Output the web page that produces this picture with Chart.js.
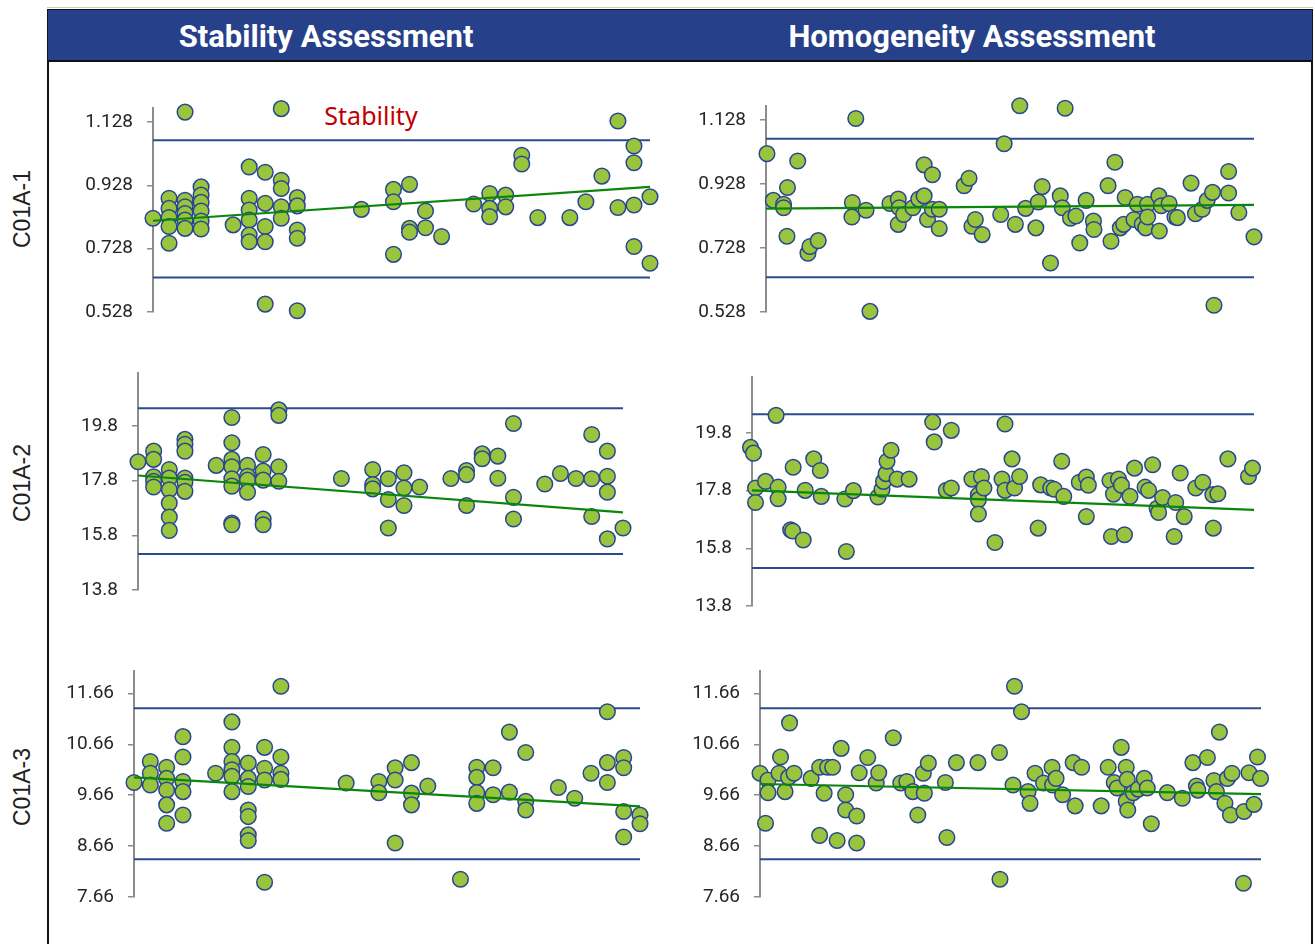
<!DOCTYPE html>
<html>
<head>
<meta charset="utf-8">
<script src="https://cdn.jsdelivr.net/npm/chart.js@4.4.1/dist/chart.umd.min.js"></script>
<style>
  body { margin: 0; width: 1315px; height: 944px; position: relative; overflow: hidden; background: #fff; }
  #topline { position: absolute; left: 47px; top: 7px; width: 1266px; height: 1px; background: #c8c8c8; }
  #frame { position: absolute; left: 47px; top: 9px; width: 1266px; height: 980px; border: 2px solid #111; box-sizing: border-box; }
  #header { position: absolute; left: 48px; top: 10px; width: 1264px; height: 52px; background: #26418A; border-bottom: 2px solid #111; box-sizing: border-box; }
  .htitle { position: absolute; top: 8px; height: 36px; line-height: 36px; color: #fff; font: bold 31px Roboto, sans-serif; transform: translateX(-50%); white-space: nowrap; }
  .rowlab { position: absolute; font: 23px 'Liberation Sans', Arial, sans-serif; color: #222; transform: translate(-50%, -50%) rotate(-90deg); white-space: nowrap; }
  #stabLabel { position: absolute; left: 371px; top: 115px; transform: translate(-50%, -50%); color: #C00000; font: 25px 'Noto Sans', sans-serif; white-space: nowrap; }
  canvas { position: absolute; }
</style>
</head>
<body>
<div id="topline"></div>
<div id="frame"></div>
<div id="header">
  <div class="htitle" style="left:278px">Stability Assessment</div>
  <div class="htitle" style="left:924px">Homogeneity Assessment</div>
</div>
<div class="rowlab" style="left:22px;top:209px">C01A-1</div>
<div class="rowlab" style="left:22px;top:483px">C01A-2</div>
<div class="rowlab" style="left:22px;top:787px">C01A-3</div>
<div id="stabLabel">Stability</div>

<script>
// ---- data ----

// stability: time points (columns) shared by all three samples
const stabTimes = [0, 1, 2, 3, 5, 6, 7, 8, 9, 13, 15, 16, 17, 18, 20, 21, 22, 23, 24, 26, 27, 28, 29, 30, 31];

const stab1Values = [
  [0.824], [0.887, 0.855, 0.826, 0.798, 0.745], [1.159, 0.881, 0.860, 0.839, 0.818, 0.792],
  [0.923, 0.897, 0.874, 0.847, 0.815, 0.790], [0.803], [0.986, 0.887, 0.850, 0.818, 0.771, 0.750],
  [0.969, 0.871, 0.798, 0.750, 0.553], [1.170, 0.944, 0.918, 0.860, 0.824], [0.889, 0.863, 0.787, 0.761, 0.532],
  [0.852], [0.915, 0.876, 0.710], [0.931, 0.792, 0.780], [0.847, 0.794], [0.766],
  [0.869], [0.902, 0.855, 0.829], [0.897, 0.860], [1.023, 0.995], [0.826],
  [0.826], [0.876], [0.957], [1.131, 0.858], [1.052, 0.999, 0.866, 0.735], [0.892, 0.682]
];
const stab2Values = [
  [18.49], [18.88, 18.58, 17.94, 17.78, 17.57], [18.21, 17.90, 17.47, 16.98, 16.47, 15.98],
  [19.31, 19.13, 18.88, 17.90, 17.74, 17.41], [18.36], [20.11, 19.19, 18.58, 18.31, 17.87, 17.60, 16.25, 16.19],
  [18.36, 17.96, 17.82, 17.38], [18.76, 18.15, 17.82, 16.40, 16.19], [20.39, 20.19, 18.31, 17.78],
  [17.88], [18.21, 17.66, 17.50], [17.87, 17.11, 16.07], [18.09, 17.53, 16.89], [17.57],
  [17.88], [18.17, 18.02, 16.89], [18.78, 18.60], [18.70, 17.89], [19.89, 17.19, 16.40],
  [17.68], [18.06], [17.88], [19.49, 17.87, 16.49], [18.88, 17.96, 17.38, 15.67], [16.07]
];
const stab3Values = [
  [9.91], [10.32, 10.09, 9.86], [10.21, 9.99, 9.76, 9.47, 9.11],
  [10.81, 10.41, 9.93, 9.73, 9.27], [10.09], [11.10, 10.60, 10.32, 10.16, 10.03, 9.73],
  [10.29, 9.99, 9.83, 9.37, 9.24, 8.88, 8.77], [10.60, 10.19, 9.96, 7.95], [11.80, 10.41, 10.09, 9.97],
  [9.90], [9.93, 9.71], [10.20, 9.96, 8.72], [10.30, 9.70, 9.47], [9.84],
  [8.01], [10.21, 10.01, 9.71, 9.50], [10.20, 9.67], [10.90, 9.72], [10.50, 9.54, 9.37],
  [9.81], [9.60], [10.09], [11.30, 10.30, 9.91], [10.40, 10.20, 9.34, 8.84], [9.27, 9.10]
];

// homogeneity: [position along the run (0-100), value]
const homog1Points = [
  [0.2, 1.023], [1.5, 0.877], [3.6, 0.865], [3.6, 0.854], [4.4, 0.917], [4.3, 0.765], [6.5, 1.000], [8.6, 0.712],
  [9.0, 0.733], [10.7, 0.751], [18.4, 1.133], [17.7, 0.870], [17.6, 0.825], [20.5, 0.846], [21.3, 0.530], [25.4, 0.867],
  [27.1, 0.881], [27.3, 0.854], [27.1, 0.802], [28.2, 0.833], [30.1, 0.854], [31.3, 0.881], [32.4, 0.891], [32.4, 0.988],
  [34.1, 0.957], [33.1, 0.817], [34.1, 0.849], [35.5, 0.849], [35.5, 0.789], [40.6, 0.923], [41.6, 0.946], [42.2, 0.796],
  [42.9, 0.817], [44.3, 0.770], [48.1, 0.833], [48.8, 1.054], [51.1, 0.802], [52.0, 1.173], [53.2, 0.852], [55.3, 0.791],
  [55.8, 0.872], [56.6, 0.920], [58.3, 0.681], [60.3, 0.891], [60.7, 0.854], [62.4, 0.821], [63.5, 0.828], [64.3, 0.744],
  [65.6, 0.877], [67.1, 0.812], [67.2, 0.786], [61.3, 1.165], [70.1, 0.923], [70.7, 0.749], [71.5, 0.996], [72.6, 0.791],
  [73.3, 0.802], [73.6, 0.886], [75.4, 0.817], [76.1, 0.865], [77.1, 0.802], [77.8, 0.791], [78.2, 0.865], [78.2, 0.825],
  [80.5, 0.891], [80.6, 0.781], [81.0, 0.860], [82.6, 0.867], [83.8, 0.825], [84.3, 0.823], [87.1, 0.931], [88.0, 0.835],
  [89.4, 0.849], [90.4, 0.877], [91.5, 0.902], [91.8, 0.549], [94.8, 0.967], [94.8, 0.900], [96.9, 0.839], [100, 0.763]
];
const homog2Points = [
  [-0.3, 19.30], [0.3, 19.10], [0.7, 17.89], [0.7, 17.39], [2.7, 18.12], [5.2, 17.92], [5.2, 17.52], [4.8, 20.41],
  [7.7, 16.44], [8.1, 16.40], [10.2, 16.09], [8.2, 18.61], [12.3, 18.90], [13.6, 18.50], [10.6, 17.81], [13.8, 17.60],
  [18.5, 17.51], [18.8, 15.69], [20.2, 17.80], [25.1, 17.58], [25.9, 17.85], [26.2, 18.12], [26.7, 18.39], [26.9, 18.82],
  [27.7, 19.20], [28.9, 18.20], [31.3, 18.20], [36.0, 20.18], [36.3, 19.49], [39.7, 19.89], [38.7, 17.81], [39.7, 17.89],
  [43.8, 18.20], [45.7, 18.29], [45.1, 17.66], [45.1, 17.48], [45.1, 16.99], [46.2, 17.89], [48.4, 16.00], [49.8, 18.20],
  [50.4, 17.81], [50.4, 20.11], [51.8, 18.90], [52.3, 17.89], [53.3, 18.29], [57.0, 16.50], [57.5, 18.00], [59.5, 17.89],
  [60.2, 17.85], [61.7, 18.82], [62.1, 17.60], [65.2, 18.09], [66.6, 18.27], [67.0, 17.99], [66.6, 16.90], [71.3, 18.15],
  [72.0, 17.68], [73.0, 18.20], [73.6, 17.99], [71.6, 16.21], [74.2, 16.27], [75.3, 17.60], [76.2, 18.58], [78.3, 17.92],
  [79.0, 17.81], [79.8, 18.70], [80.7, 17.19], [81.0, 17.04], [81.8, 17.56], [84.1, 16.21], [84.4, 17.39], [85.3, 18.41],
  [86.1, 16.90], [88.4, 17.89], [89.8, 18.09], [91.9, 16.50], [91.8, 17.66], [92.8, 17.69], [94.8, 18.90], [98.9, 18.29],
  [99.7, 18.58]
];
const homog3Points = [
  [0, 10.09], [1.6, 9.96], [1.6, 9.71], [1.1, 9.11], [4.1, 10.41], [3.8, 10.09], [5.0, 9.73], [5.7, 10.01],
  [5.9, 11.08], [6.8, 10.09], [10.2, 9.99], [11.9, 10.21], [13.5, 10.21], [14.5, 10.21], [12.8, 9.70], [11.9, 8.87],
  [15.4, 8.77], [16.2, 10.58], [17.1, 9.67], [17.1, 9.37], [19.3, 9.25], [19.3, 8.72], [19.8, 10.10], [21.5, 10.40],
  [23.2, 9.90], [23.7, 10.10], [26.6, 10.79], [28.1, 9.90], [29.3, 9.93], [30.5, 9.73], [31.5, 9.27], [32.6, 10.09],
  [33.6, 10.29], [32.8, 9.70], [37.0, 9.91], [37.3, 8.83], [39.2, 10.30], [43.5, 10.30], [47.8, 10.50], [47.9, 8.01],
  [50.5, 9.86], [50.8, 11.80], [52.2, 11.30], [53.5, 9.73], [53.9, 9.50], [54.9, 10.09], [56.6, 9.90], [58.3, 10.21],
  [58.4, 9.86], [59.1, 9.99], [60.4, 9.67], [62.5, 10.30], [62.9, 9.45], [64.2, 10.21], [68.1, 9.45], [69.5, 10.21],
  [70.7, 9.91], [71.3, 9.80], [72.1, 10.60], [73.1, 10.21], [73.3, 9.97], [73.1, 9.54], [73.4, 9.37], [74.5, 9.71],
  [75.5, 9.78], [76.7, 9.99], [77.3, 9.80], [78.1, 9.10], [81.3, 9.71], [84.3, 9.60], [86.4, 10.30], [87.1, 9.84],
  [87.4, 9.76], [89.3, 10.40], [90.6, 9.95], [91.7, 10.90], [91.1, 9.73], [92.8, 9.50], [93.3, 9.99], [93.9, 9.27],
  [94.2, 10.09], [96.5, 7.93], [96.6, 9.34], [97.6, 10.10], [98.6, 9.48], [99.3, 10.41], [99.9, 9.99]
];

// y-axis tick labels per sample row
const ticksRow1 = [0.528, 0.728, 0.928, 1.128];
const ticksRow2 = [13.8, 15.8, 17.8, 19.8];
const ticksRow3 = [7.66, 8.66, 9.66, 10.66, 11.66];

// control limits [lower, upper] per row
const limitsRow1 = [0.637, 1.070];
const limitsRow2 = [15.12, 20.45];
const limitsRow3 = [8.40, 11.37];

// trend line ends [start, end] per panel
const trendStab1 = [0.816, 0.923];
const trendStab2 = [17.99, 16.64];
const trendStab3 = [10.01, 9.44];
const trendHomog1 = [0.851, 0.863];
const trendHomog2 = [17.81, 17.13];
const trendHomog3 = [9.88, 9.68];

// ---- drawing ----
const POINT_FILL = '#98C43E';
const POINT_EDGE = '#2B4690';
const LIMIT_COLOR = '#2E4A8E';
const TREND_COLOR = '#0A870A';

function stabPoints(values) {
    const pts = [];
    values.forEach((col, i) => col.forEach(v => pts.push({ x: stabTimes[i], y: v })));
    return pts;
}
function pairPoints(arr) {
    return arr.map(p => ({ x: p[0], y: p[1] }));
}

// chart area boxes (left, right, top, bottom) in page pixels
const panels = [
    { box: [153, 650, 108, 312], pts: stabPoints(stab1Values), xMax: 31, ticks: ticksRow1, dec: 3, yMin: 0.528, yMax: 1.172, lim: limitsRow1, trend: trendStab1 },
    { box: [766, 1254, 106, 312], pts: pairPoints(homog1Points), xMax: 100, ticks: ticksRow1, dec: 3, yMin: 0.528, yMax: 1.172, lim: limitsRow1, trend: trendHomog1 },
    { box: [138, 623, 373, 590], pts: stabPoints(stab2Values), xMax: 31, ticks: ticksRow2, dec: 1, yMin: 13.8, yMax: 21.74, lim: limitsRow2, trend: trendStab2 },
    { box: [752, 1254, 377, 606], pts: pairPoints(homog2Points), xMax: 100, ticks: ticksRow2, dec: 1, yMin: 13.8, yMax: 21.74, lim: limitsRow2, trend: trendHomog2 },
    { box: [134, 640, 671, 897], pts: stabPoints(stab3Values), xMax: 31, ticks: ticksRow3, dec: 2, yMin: 7.66, yMax: 12.10, lim: limitsRow3, trend: trendStab3 },
    { box: [760, 1261, 671, 897], pts: pairPoints(homog3Points), xMax: 100, ticks: ticksRow3, dec: 2, yMin: 7.66, yMax: 12.10, lim: limitsRow3, trend: trendHomog3 }
];

const AXIS_W = 100, PAD_R = 24, PAD_T = 26, PAD_B = 26;

panels.forEach(p => {
    const [l, r, t, b] = p.box;
    const canvas = document.createElement('canvas');
    canvas.width = (r - l) + AXIS_W + PAD_R;
    canvas.height = (b - t) + PAD_T + PAD_B;
    canvas.style.left = (l - AXIS_W) + 'px';
    canvas.style.top = (t - PAD_T) + 'px';
    document.body.appendChild(canvas);

    const hline = y => [{ x: 0, y: y }, { x: p.xMax, y: y }];
    const lineDs = (data, color, w) => ({
        data: data, showLine: true, borderColor: color, borderWidth: w,
        pointRadius: 0, pointHoverRadius: 0, clip: false
    });

    new Chart(canvas.getContext('2d'), {
        type: 'scatter',
        data: {
            datasets: [
                lineDs([{ x: 0, y: p.trend[0] }, { x: p.xMax, y: p.trend[1] }], TREND_COLOR, 2.2),
                {
                    data: p.pts, pointRadius: 7.8, pointHoverRadius: 7.8, borderWidth: 1.5,
                    backgroundColor: POINT_FILL, borderColor: POINT_EDGE, clip: false
                },
                lineDs(hline(p.lim[1]), LIMIT_COLOR, 2),
                lineDs(hline(p.lim[0]), LIMIT_COLOR, 2)
            ]
        },
        options: {
            responsive: false,
            animation: false,
            events: [],
            layout: { padding: { left: 0, right: PAD_R, top: PAD_T, bottom: PAD_B } },
            plugins: { legend: { display: false }, tooltip: { enabled: false } },
            scales: {
                x: { type: 'linear', display: false, min: 0, max: p.xMax },
                y: {
                    min: p.yMin, max: p.yMax,
                    afterBuildTicks: s => { s.ticks = p.ticks.map(v => ({ value: v })); },
                    afterFit: s => { s.width = AXIS_W; },
                    ticks: {
                        padding: 14,
                        color: '#262626',
                        font: { family: "Roboto, sans-serif", size: 19 },
                        callback: v => Number(v).toFixed(p.dec)
                    },
                    grid: { display: true, drawOnChartArea: false, drawTicks: true, tickLength: 6, color: '#8c8c8c', lineWidth: 1.5 },
                    border: { display: true, color: '#8c8c8c', width: 2 }
                }
            }
        }
    });
});
</script>
</body>
</html>
